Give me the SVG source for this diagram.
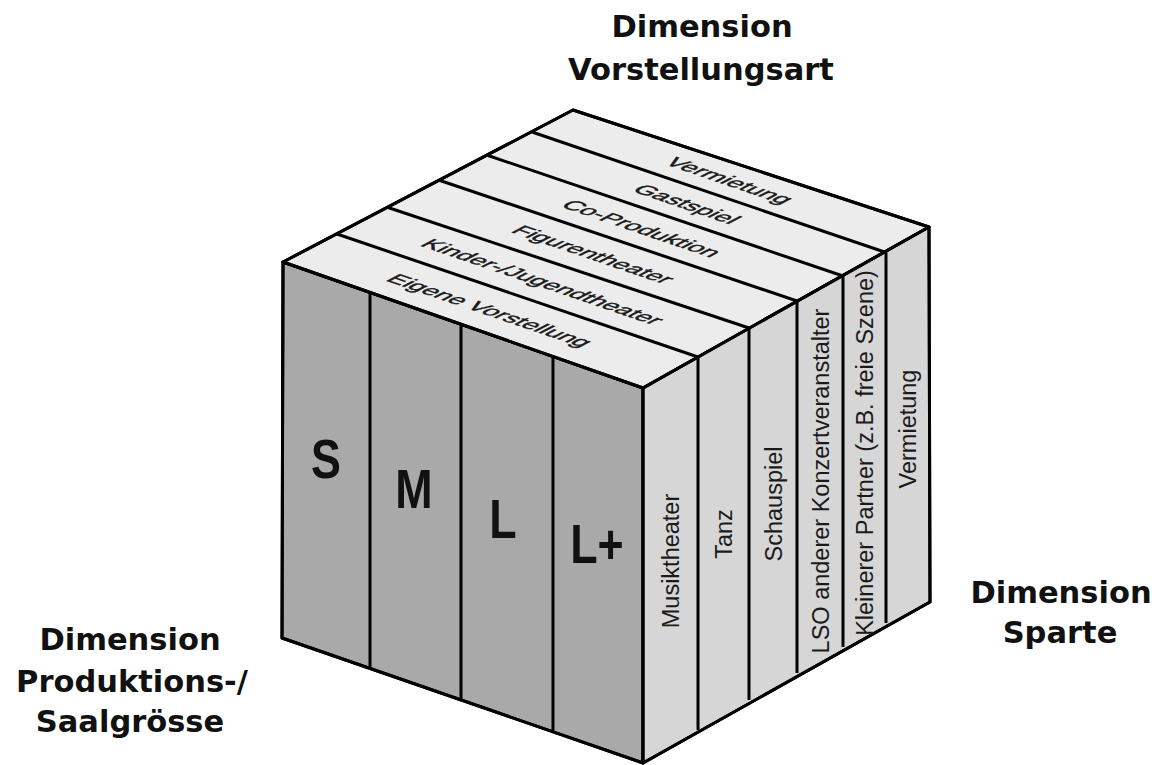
<svg xmlns="http://www.w3.org/2000/svg" width="1159" height="765" viewBox="0 0 1159 765">
<style>
.face{stroke:#000;stroke-width:3;stroke-linejoin:round}
.front{fill:#a9a9a9}
.top{fill:#ececec}
.right{fill:#d6d6d6}
.div{stroke:#000;stroke-width:3;fill:none}
.axis{font-family:"DejaVu Sans",sans-serif;font-weight:bold;font-size:30.5px;fill:#111;text-anchor:middle}
.big{font-family:"Liberation Sans",Arial,sans-serif;font-weight:bold;font-size:56px;fill:#111;text-anchor:middle}
.tl{font-family:"Liberation Sans",Arial,sans-serif;font-size:25px;fill:#1a1a1a;stroke:#1a1a1a;stroke-width:0.6;text-anchor:middle}
.rl{font-family:"Liberation Sans",Arial,sans-serif;font-size:23.5px;fill:#1a1a1a;text-anchor:middle}
</style>
<g id="cube">
  <g id="front-face">
    <polygon class="face front" points="283,262 643,388 643,763 282,638"/>
  </g>
  <g id="top-face">
    <polygon class="face top" points="283,262 573,110 929,227 643,388"/>
  </g>
  <g id="right-face">
    <polygon class="face right" points="643,388 929,227 930,602 643,763"/>
  </g>
</g>
<g id="connectors">
  <line class="div" x1="370" y1="292.5" x2="370" y2="668"/>
  <line class="div" x1="461" y1="324.5" x2="461" y2="700"/>
  <line class="div" x1="553" y1="356.5" x2="553" y2="732"/>
  <line class="div" x1="337" y1="234" x2="698" y2="357"/>
  <line class="div" x1="388" y1="207.5" x2="749" y2="328"/>
  <line class="div" x1="440" y1="180.5" x2="797" y2="301"/>
  <line class="div" x1="488" y1="155.5" x2="843" y2="276"/>
  <line class="div" x1="532" y1="132" x2="886" y2="252.5"/>
  <line class="div" x1="698" y1="357" x2="698" y2="730"/>
  <line class="div" x1="749" y1="328" x2="749" y2="700"/>
  <line class="div" x1="797" y1="301" x2="797" y2="673"/>
  <line class="div" x1="843" y1="276" x2="843" y2="647"/>
  <line class="div" x1="886" y1="252.5" x2="886" y2="623"/>
  <polygon class="div" points="283,262 573,110 929,227 930,602 643,763 282,638" style="stroke-linejoin:round"/>
  <polyline class="div" points="283,262 643,388 929,227"/>
  <line class="div" x1="643" y1="388" x2="643" y2="763"/>
</g>
<g id="size-S"><text class="big" transform="translate(326,478) scale(0.8,1)">S</text></g>
<g id="size-M"><text class="big" transform="translate(414,508) scale(0.8,1)">M</text></g>
<g id="size-L"><text class="big" transform="translate(503,538) scale(0.8,1)">L</text></g>
<g id="size-Lplus"><text class="big" transform="translate(597,563) scale(0.8,1)">L+</text></g>
<g id="art-eigene"><text class="tl" y="9" transform="matrix(0.9466 0.3226 -0.767 0.402 490.3 310.3)">Eigene Vorstellung</text></g>
<g id="art-kinder"><text class="tl" y="9" transform="matrix(0.9466 0.3226 -0.767 0.402 543 281.6)">Kinder-/Jugendtheater</text></g>
<g id="art-figuren"><text class="tl" y="9" transform="matrix(0.9466 0.3226 -0.767 0.402 593.5 254.3)">Figurentheater</text></g>
<g id="art-co"><text class="tl" y="9" transform="matrix(0.9466 0.3226 -0.767 0.402 642 228.3)">Co-Produktion</text></g>
<g id="art-gast"><text class="tl" y="9" transform="matrix(0.9466 0.3226 -0.767 0.402 687.3 204)">Gastspiel</text></g>
<g id="art-verm"><text class="tl" y="9" transform="matrix(0.9466 0.3226 -0.767 0.402 730 180.4)">Vermietung</text></g>
<g id="sp-musik"><text class="rl" y="8.5" transform="translate(670.5,561) rotate(-90)">Musiktheater</text></g>
<g id="sp-tanz"><text class="rl" y="8.5" transform="translate(723.5,534) rotate(-90)">Tanz</text></g>
<g id="sp-schau"><text class="rl" y="8.5" transform="translate(773,504) rotate(-90)">Schauspiel</text></g>
<g id="sp-lso"><text class="rl" y="8.5" transform="translate(820,481) rotate(-90)">LSO anderer Konzertveranstalter</text></g>
<g id="sp-klein"><text class="rl" y="8.5" transform="translate(864.5,453) rotate(-90)">Kleinerer Partner (z.B. freie Szene)</text></g>
<g id="sp-verm"><text class="rl" y="8.5" transform="translate(907.5,429) rotate(-90)">Vermietung</text></g>
<g id="label-vorstellungsart"><text class="axis" x="702" y="37">Dimension</text><text class="axis" x="701" y="80">Vorstellungsart</text></g>
<g id="label-groesse"><text class="axis" x="130" y="650">Dimension</text><text class="axis" x="132" y="692">Produktions-/</text><text class="axis" x="130" y="732">Saalgrösse</text></g>
<g id="label-sparte"><text class="axis" x="1061" y="603">Dimension</text><text class="axis" x="1060" y="643">Sparte</text></g>
</svg>
